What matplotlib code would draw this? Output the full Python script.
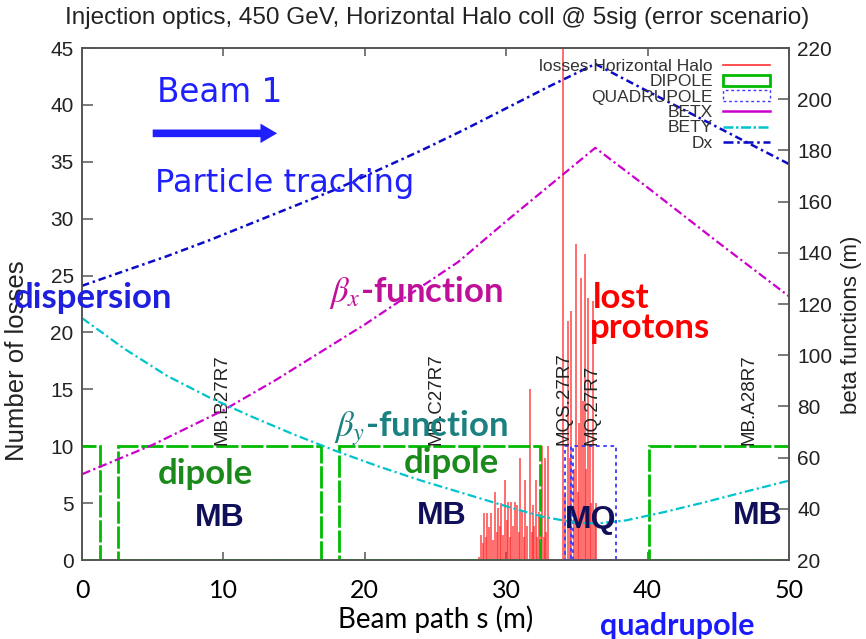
import numpy as np
import matplotlib
matplotlib.use('Agg')
import matplotlib.pyplot as plt
from matplotlib.lines import Line2D
from matplotlib.patches import Patch, Rectangle

plt.rcParams['mathtext.fontset'] = 'stix'

## optics functions along the beam path
s_opt = [0, 5, 10, 13.7, 20, 26.6, 30.1, 36.3, 40, 45, 50]
betx = [53.5, 65, 78.5, 90.3, 112, 136.4, 152.8, 181, 165.5, 144, 123]

s_bety = [0, 3, 6, 9, 12, 15, 18, 21, 24, 27, 30, 32.5, 35, 36.5, 38.5, 41, 44, 47, 50]
bety = [114.5, 102.5, 92, 83.5, 76, 69, 62.5, 56.5, 51, 46, 41, 37, 34.5, 34.3, 35.5,
        38.5, 42.5, 46.8, 51]

s_dx = [0, 3, 6, 9, 12, 15, 18, 21, 24, 27, 30, 33, 36.3, 40, 45, 50]
dx = [24.1, 25.4, 26.7, 28.1, 29.6, 31.1, 32.6, 34.3, 36.0, 37.8, 39.7, 41.6, 43.6,
      41.2, 38.0, 34.8]

## lost protons (number of losses per bin)
s_loss = [28.1, 28.24, 28.35, 28.45, 28.55, 28.66, 28.8, 28.94, 29.05, 29.23, 29.35, 29.44,
          29.55, 29.65, 29.8, 29.93, 30.05, 30.14, 30.25, 30.35, 30.5, 30.63, 30.77, 30.9,
          30.99, 31.13, 31.25, 31.34, 31.5, 31.69, 31.8, 31.9, 32.0, 32.11, 32.2, 32.32,
          32.45, 32.54, 32.65, 32.75, 32.85, 32.96,
          34.0, 34.15, 34.37, 34.48, 34.58, 34.8, 34.96, 35.05, 35.14, 35.28, 35.42,
          35.56, 35.66, 35.77, 35.92, 36.02, 36.13, 36.25, 36.34]
n_loss = [0.3, 2.2, 1.5, 4.1, 2.0, 4.1, 2.9, 4.1, 1.8, 6.0, 2.5, 4.6,
          3.0, 5.0, 2.2, 7.0, 3.5, 5.1, 2.0, 5.1, 3.0, 5.1, 4.8, 2.5,
          9.0, 4.4, 2.0, 7.0, 3.0, 15.0, 2.5, 4.8, 3.0, 7.0, 2.0, 4.2,
          3.0, 10.0, 2.0, 9.0, 2.5, 10.0,
          50, 6, 21.0, 9, 21.9, 8, 27.8, 6, 12, 24.8, 14,
          26.9, 8, 23.0, 10, 5, 22.8, 4, 5]

## magnet layout (start, end), drawn at height 10
dipoles = [(-1.0, 1.3), (2.55, 16.9), (18.2, 32.4), (40.1, 51.0)]
quads = [(34.15, 34.55), (34.7, 37.75)]
elem_names = ['MB.B27R7', 'MB.C27R7', 'MQS.27R7', 'MQ.27R7', 'MB.A28R7']
elem_pos = [9.9, 25.0, 34.1, 36.1, 47.2]

gp_font = 'Liberation Sans'
cal_font = 'Lato'
green = '#00bb00'
qblue = '#3a3aff'
dxblue = '#0a0ac8'
magenta = '#cc00cc'
cyan = '#00c4cc'

fig = plt.figure(figsize=(8.66, 6.39), dpi=100)
ax = fig.add_axes([82/866, 1-560/639, (789-82)/866, (560-48)/639])
ax2 = ax.twinx()

ax.vlines(s_loss, 0, n_loss, color='#ff2a2a', lw=1.2, alpha=0.8, zorder=2)

for a, b in dipoles:
    ax.add_patch(Rectangle((a, 0), b - a, 10, fill=False, ec=green, lw=2,
                           ls=(0, (8, 1)), zorder=3))
for a, b in quads:
    ax.add_patch(Rectangle((a, 0), b - a, 10, fill=False, ec=qblue, lw=1.3,
                           ls=(0, (2, 2)), zorder=3))

ax.plot(s_dx, dx, color=dxblue, lw=1.8, ls=(0, (3, 1.5, 1, 1.5)), zorder=4)
ax2.plot(s_opt, betx, color=magenta, lw=1.6, ls=(0, (4, 1.5, 1, 1.5)))
ax2.plot(s_bety, bety, color=cyan, lw=1.6, ls=(0, (4, 1.5, 1, 1.5)))

for name, p in zip(elem_names, elem_pos):
    ax.text(p, 10.1, name, rotation=90, ha='center', va='bottom', fontsize=13.5,
            family=gp_font, color='#222222', zorder=5)

ax.set_xlim(0, 50)
ax.set_ylim(0, 45)
ax2.set_ylim(20, 220)
ax.set_xticks([0, 10, 20, 30, 40, 50])
ax.set_yticks(np.arange(0, 46, 5))
ax2.set_yticks(np.arange(20, 221, 20))

for a in (ax, ax2):
    for sp in a.spines.values():
        sp.set_color('#555555')
        sp.set_linewidth(1.2)
ax.tick_params(axis='y', direction='in', length=8, width=1.1, color='#555555',
               labelsize=15, labelcolor='#222222', pad=6)
ax.tick_params(axis='x', direction='in', length=6, width=1.1, color='#555555',
               labelsize=18, pad=14, top=True)
ax2.tick_params(axis='y', direction='in', length=8, width=1.1, color='#555555',
                labelsize=15, labelcolor='#222222', pad=6)
for lab in ax.get_xticklabels():
    lab.set_family(cal_font)
for lab in ax.get_yticklabels() + ax2.get_yticklabels():
    lab.set_family(gp_font)

ax.set_xlabel('Beam path s (m)', family=cal_font, fontsize=20, labelpad=2)
ax.set_ylabel('Number of losses', family=gp_font, fontsize=18.5, color='#222222')
ax.yaxis.set_label_coords(-0.075, 0.39)
ax2.set_ylabel('beta functions (m)', family=gp_font, fontsize=16, color='#222222')
ax2.yaxis.set_label_coords(1.073, 0.46)

fig.text(0.505, 1-18/639, 'Injection optics, 450 GeV, Horizontal Halo coll @ 5sig (error scenario)',
         ha='center', va='center', family=gp_font, fontsize=17.5, color='#222222')

handles = [Line2D([], [], color='#ff3030', lw=1.2),
           Patch(fc='none', ec=green, lw=2),
           Patch(fc='none', ec=qblue, lw=1, ls=(0, (2, 2))),
           Line2D([], [], color=magenta, lw=1.8),
           Line2D([], [], color=cyan, lw=1.8, ls=(0, (4, 1, 1, 1))),
           Line2D([], [], color=dxblue, lw=1.8, ls=(0, (4, 1.5, 1, 1.5)))]
labels = ['losses Horizontal Halo', 'DIPOLE', 'QUADRUPOLE', 'BETX', 'BETY', 'Dx']
leg = ax2.legend(handles, labels, loc='upper right', bbox_to_anchor=(770/866, 1-59/639),
                 bbox_transform=fig.transFigure, frameon=False, markerfirst=False,
                 prop={'family': gp_font, 'size': 12.5}, labelspacing=0.02,
                 handlelength=2.7, handleheight=0.6, handletextpad=0.6,
                 borderpad=0, borderaxespad=0)
for t in leg.get_texts():
    t.set_color('#333333')

## annotations on top of the plot
def note(x, y, txt, color, size, weight='bold', family=cal_font):
    ax2.text(x, y, txt, color=color, fontsize=size, fontweight=weight, family=family,
             ha='left', va='center', transform=ax.transData, clip_on=False, zorder=10)

note(5.3, 41.05, 'Beam 1', '#2020ff', 23.5, 'normal', 'DejaVu Sans')
note(5.15, 33.1, 'Particle tracking', '#2020ff', 23, 'normal', 'DejaVu Sans')
ax2.annotate('', xy=(13.8, 37.5), xytext=(5.0, 37.5), xycoords=ax.transData,
             textcoords=ax.transData,
             arrowprops=dict(arrowstyle='simple,head_length=1.2,head_width=1.4,tail_width=0.55',
                             color='#2020ff', lw=0, shrinkA=0, shrinkB=0))
note(-4.8, 23.0, 'dispersion', '#1f1fe0', 25)
note(17.5, 23.5, r'$\beta_x$-function', '#c0109a', 25)
note(17.8, 11.6, r'$\beta_y$-function', '#1a8080', 25)
note(36.1, 23.0, 'lost', '#ff0000', 25)
note(35.9, 20.4, 'protons', '#ff0000', 25)
note(5.35, 7.6, 'dipole', '#1a8a1a', 25)
note(22.75, 8.5, 'dipole', '#1a8a1a', 25)
for x0, y0 in [(7.96, 3.7), (23.7, 3.9), (46.0, 3.9)]:
    note(x0, y0, 'MB', '#10105a', 23, 'bold', 'Liberation Sans')
note(34.15, 3.5, 'MQ', '#10105a', 23, 'bold', 'Liberation Sans')

fig.text(600/866, 1-612/639, 'quadrupole', color='#1a1aff', fontsize=22, fontweight='bold',
         family=cal_font, ha='left', va='top')

fig.savefig('out.png', dpi=100)
